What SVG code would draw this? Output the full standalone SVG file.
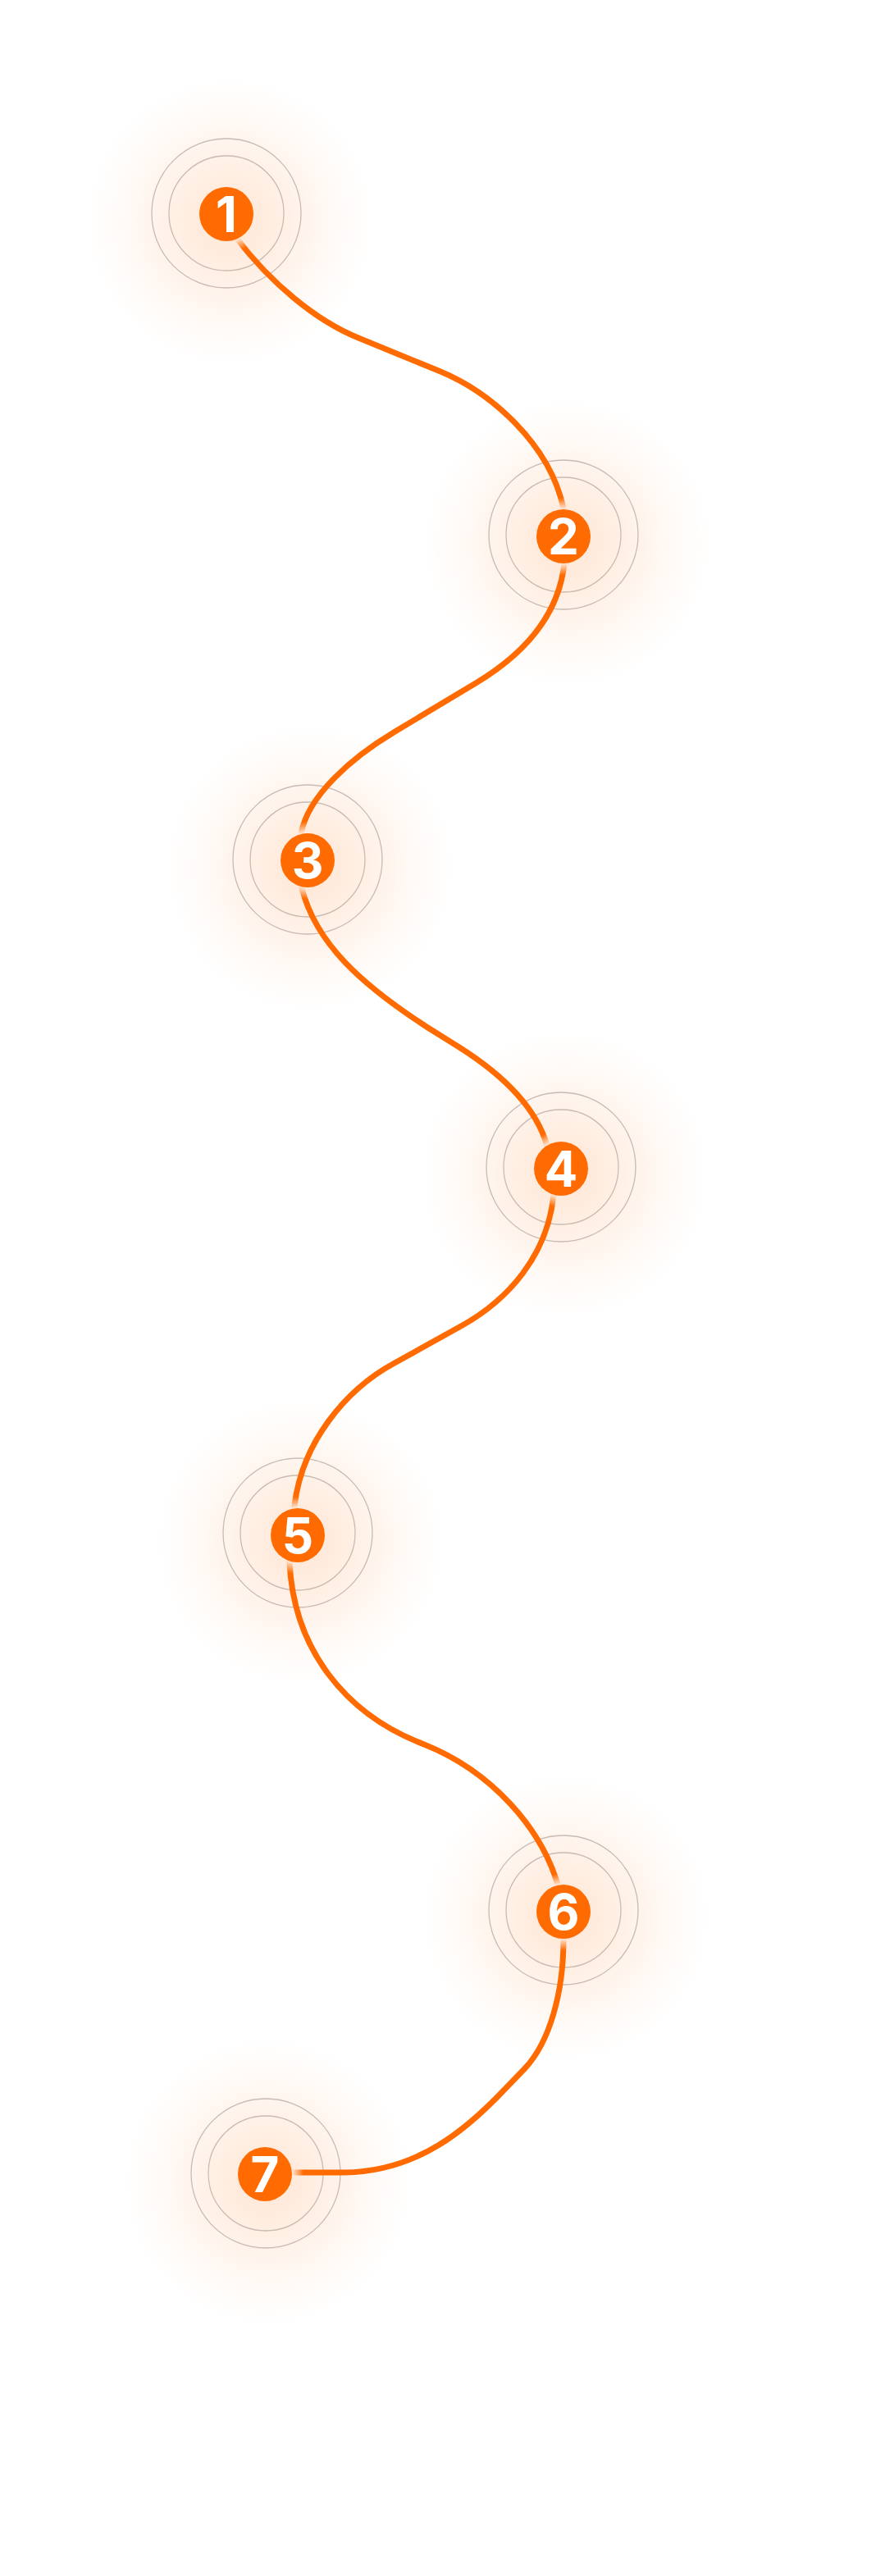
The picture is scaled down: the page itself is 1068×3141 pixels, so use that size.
<svg xmlns="http://www.w3.org/2000/svg" width="1068" height="3141" viewBox="0 0 1068 3141">
<defs>
<style>
.glow{fill:url(#glowGrad)}
.ring{fill:none;stroke:#c8bbb3;stroke-width:1.3}
.dot{fill:#ff6b00}
.num{fill:#ffffff;font-family:Inter,"Open Sans","Liberation Sans",sans-serif;font-weight:700;font-size:60px;text-anchor:middle}
.conn{fill:none;stroke:#ff6b00;stroke-width:7;stroke-linecap:butt;stroke-linejoin:round}
</style>
<radialGradient id="glowGrad" cx="0.5" cy="0.5" r="0.5">
<stop offset="0" stop-color="#ff6b00" stop-opacity="0.17"/>
<stop offset="0.35" stop-color="#ff6b00" stop-opacity="0.11"/>
<stop offset="0.7" stop-color="#ff6b00" stop-opacity="0.04"/>
<stop offset="1" stop-color="#ff6b00" stop-opacity="0"/>
</radialGradient>
<radialGradient id="fadeGrad" cx="0.5" cy="0.5" r="0.5">
<stop offset="0.7" stop-color="#000"/>
<stop offset="1" stop-color="#fff"/>
</radialGradient>
<mask id="pathMask" maskUnits="userSpaceOnUse" x="0" y="0" width="1068" height="3141">
<rect x="0" y="0" width="1068" height="3141" fill="#fff"/>
<circle cx="276" cy="261" r="47" fill="url(#fadeGrad)"/>
<circle cx="687" cy="654" r="47" fill="url(#fadeGrad)"/>
<circle cx="375" cy="1049" r="47" fill="url(#fadeGrad)"/>
<circle cx="684" cy="1425" r="47" fill="url(#fadeGrad)"/>
<circle cx="363" cy="1872" r="47" fill="url(#fadeGrad)"/>
<circle cx="687" cy="2331" r="47" fill="url(#fadeGrad)"/>
<circle cx="323" cy="2651" r="47" fill="url(#fadeGrad)"/>
</mask>
</defs>
<rect x="0" y="0" width="1068" height="3141" fill="#ffffff"/>

<g id="glows">
<circle class="glow" cx="280" cy="270" r="175"/>
<circle class="glow" cx="692" cy="662" r="175"/>
<circle class="glow" cx="378" cy="1058" r="175"/>
<circle class="glow" cx="688" cy="1432" r="175"/>
<circle class="glow" cx="366" cy="1880" r="175"/>
<circle class="glow" cx="690" cy="2338" r="175"/>
<circle class="glow" cx="326" cy="2660" r="175"/>
</g>

<g id="rings">
<circle class="ring" cx="276" cy="260" r="70"/><circle class="ring" cx="276" cy="260" r="91"/>
<circle class="ring" cx="687" cy="652" r="70"/><circle class="ring" cx="687" cy="652" r="91"/>
<circle class="ring" cx="375" cy="1048" r="70"/><circle class="ring" cx="375" cy="1048" r="91"/>
<circle class="ring" cx="684" cy="1423" r="70"/><circle class="ring" cx="684" cy="1423" r="91"/>
<circle class="ring" cx="363" cy="1869" r="70"/><circle class="ring" cx="363" cy="1869" r="91"/>
<circle class="ring" cx="687" cy="2329" r="70"/><circle class="ring" cx="687" cy="2329" r="91"/>
<circle class="ring" cx="324" cy="2650" r="70"/><circle class="ring" cx="324" cy="2650" r="91"/>
</g>

<g id="connectors" mask="url(#pathMask)">
<path class="conn" d="M 270 240 L 288 290 C 330 345 385 391 437 412 L 537 453 C 597 478 670 540 687 620 L 690 654"/>
<path class="conn" d="M 690 654 L 688 687 C 680 760 625 806 580 833 L 480 893 C 430 923 375 970 367 1017 L 372 1049"/>
<path class="conn" d="M 372 1049 L 368 1083 C 385 1150 440 1200 520 1252 L 560 1277 C 620 1315 655 1355 667 1397 L 680 1425"/>
<path class="conn" d="M 680 1425 L 675 1456 C 668 1530 620 1585 562 1617 L 481 1662 C 420 1695 368 1760 359 1836 L 360 1872"/>
<path class="conn" d="M 360 1872 L 353 1905 C 358 2010 420 2090 517 2127 C 600 2160 660 2230 680 2298 L 686 2331"/>
<path class="conn" d="M 686 2331 L 687 2365 C 687 2430 670 2490 640 2522 L 613 2550 C 570 2595 510 2648 420 2649 L 323 2649"/>
</g>

<g id="node-1"><circle class="dot" cx="276" cy="261" r="33"/><text class="num" x="276" y="283">1</text></g>
<g id="node-2"><circle class="dot" cx="687" cy="654" r="33"/><text class="num" x="687" y="676">2</text></g>
<g id="node-3"><circle class="dot" cx="375" cy="1049" r="33"/><text class="num" x="375" y="1071">3</text></g>
<g id="node-4"><circle class="dot" cx="684" cy="1425" r="33"/><text class="num" x="684" y="1447">4</text></g>
<g id="node-5"><circle class="dot" cx="363" cy="1872" r="33"/><text class="num" x="363" y="1894">5</text></g>
<g id="node-6"><circle class="dot" cx="687" cy="2331" r="33"/><text class="num" x="687" y="2353">6</text></g>
<g id="node-7"><circle class="dot" cx="323" cy="2651" r="33"/><text class="num" x="323" y="2673">7</text></g>
</svg>
